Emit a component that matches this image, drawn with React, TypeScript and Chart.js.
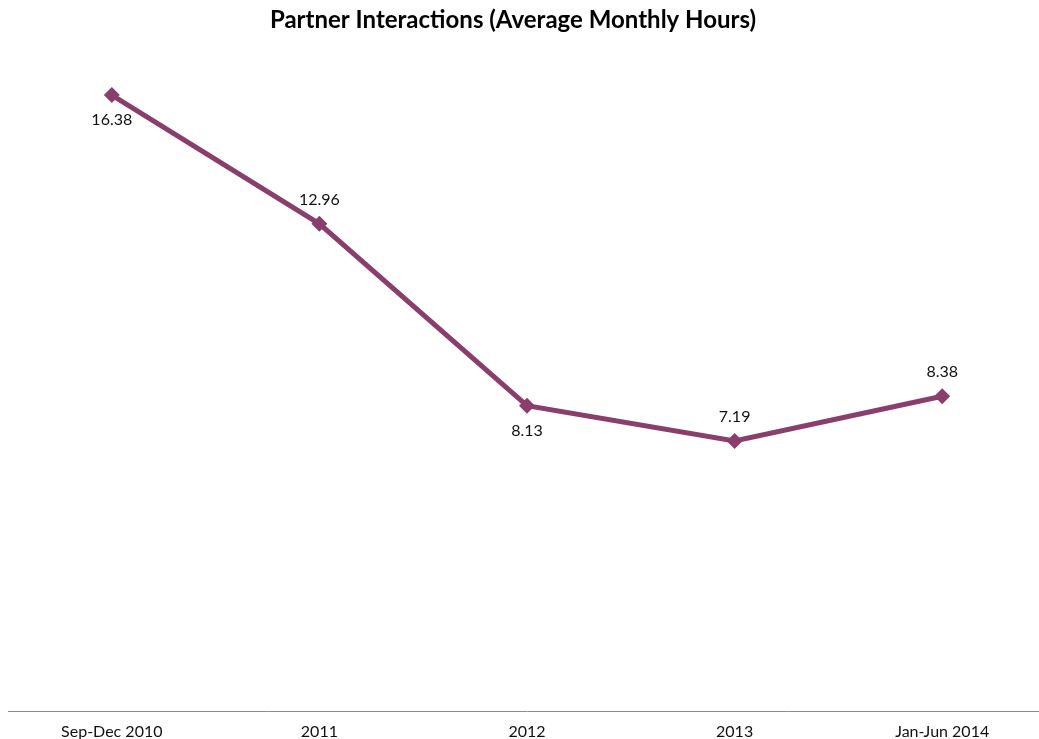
import React, { useEffect, useRef } from "react";
import { Chart, registerables } from "chart.js";

Chart.register(...registerables);

const categories = ["Sep-Dec 2010", "2011", "2012", "2013", "Jan-Jun 2014"];
const hours = [16.38, 12.96, 8.13, 7.19, 8.38];
const labelSides = ["below", "above", "below", "above", "above"];
const titleText = "Partner Interactions (Average Monthly Hours)";

const FONT = "Lato, 'DejaVu Sans', sans-serif";
const LINE_COLOR = "#8A3E6C";

const dataLabelPlugin = {
  id: "pointValueLabels",
  afterDatasetsDraw(chart: any) {
    const { ctx } = chart;
    const meta = chart.getDatasetMeta(0);
    ctx.save();
    ctx.font = `16px ${FONT}`;
    ctx.fillStyle = "#111111";
    ctx.textAlign = "center";
    ctx.textBaseline = "middle";
    meta.data.forEach((pt: any, i: number) => {
      const v = chart.data.datasets[0].data[i] as number;
      const dy = labelSides[i] === "below" ? 25 : -24;
      ctx.fillText(v.toFixed(2), pt.x, pt.y + dy);
    });
    ctx.restore();
  },
};

const titlePlugin = {
  id: "offsetTitle",
  afterDraw(chart: any) {
    const { ctx } = chart;
    ctx.save();
    ctx.font = `bold 24px ${FONT}`;
    ctx.fillStyle = "#000000";
    ctx.textAlign = "center";
    ctx.textBaseline = "middle";
    ctx.fillText(titleText, 513, 20);
    ctx.restore();
  },
};

export default function App() {
  const ref = useRef<HTMLCanvasElement | null>(null);
  useEffect(() => {
    if (!ref.current) return;
    const chart = new Chart(ref.current, {
      type: "line",
      data: {
        labels: categories,
        datasets: [
          {
            data: hours,
            borderColor: LINE_COLOR,
            backgroundColor: LINE_COLOR,
            borderWidth: 5,
            pointStyle: "rectRot",
            pointRadius: 8,
            pointBorderWidth: 0,
            pointBackgroundColor: LINE_COLOR,
            tension: 0,
          },
        ],
      },
      options: {
        animation: false,
        responsive: false,
        maintainAspectRatio: false,
        layout: { padding: { left: 8, right: 0, top: 34, bottom: 1 } },
        plugins: {
          legend: { display: false },
          tooltip: { enabled: false },
          title: { display: false },
        },
        scales: {
          x: {
            offset: true,
            grid: { display: false, drawTicks: false },
            border: { display: true, color: "#8c8c8c", width: 1 },
            ticks: {
              color: "#111111",
              font: { family: FONT, size: 16 },
              padding: 10,
              maxRotation: 0,
              autoSkip: false,
            },
          },
          y: {
            display: false,
            min: 0,
            max: 18,
          },
        },
      },
      plugins: [dataLabelPlugin, titlePlugin],
    });
    return () => chart.destroy();
  }, []);
  return (
    <div
      style={{
        position: "fixed",
        left: 0,
        top: 0,
        width: 1039,
        height: 739,
        overflow: "hidden",
        background: "#ffffff",
      }}
    >
      <canvas ref={ref} width={1054} height={752} style={{ display: "block" }} />
    </div>
  );
}
